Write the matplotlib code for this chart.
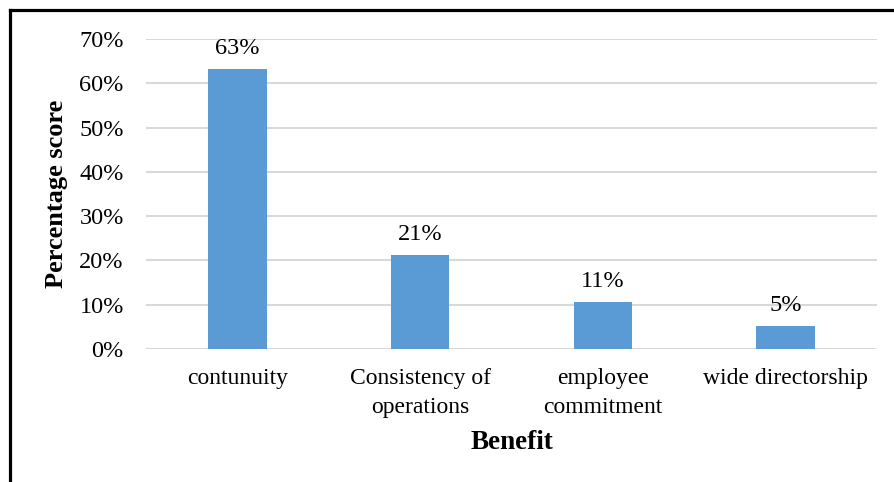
import matplotlib.pyplot as plt
from matplotlib.lines import Line2D
from matplotlib.ticker import PercentFormatter

# Datos
categories = ["contunuity", "Consistency of\noperations", "employee\ncommitment", "wide directorship"]
scores = [0.633, 0.212, 0.106, 0.053]
yticks = [0, 0.1, 0.2, 0.3, 0.4, 0.5, 0.6, 0.7]

plt.rcParams["font.family"] = ["Liberation Serif", "DejaVu Serif"]

fig = plt.figure(figsize=(8.94, 4.82), dpi=100)
ax = fig.add_axes([146 / 894, 1 - 349 / 482, 731 / 894, 310 / 482])

x = range(len(categories))
bars = ax.bar(x, scores, width=0.32, color="#5b9bd5", zorder=3)

for b, v in zip(bars, scores):
    ax.annotate(f"{v * 100:.0f}%", (b.get_x() + b.get_width() / 2, v),
                xytext=(0, 7), textcoords="offset points",
                ha="center", va="bottom", fontsize=17.5)

ax.set_xlim(-0.5, len(categories) - 0.5)
ax.set_ylim(0, 0.7)
ax.set_yticks(yticks)
ax.yaxis.set_major_formatter(PercentFormatter(1.0, decimals=0))
ax.set_xticks(list(x))
ax.set_xticklabels(categories, fontsize=17, linespacing=1.45)
ax.tick_params(axis="both", length=0, labelsize=17.5)
ax.tick_params(axis="x", pad=14, labelsize=17)
ax.tick_params(axis="y", pad=16)
ax.grid(axis="y", color="#d9d9d9", linewidth=1.5, zorder=0)
for s in ax.spines.values():
    s.set_visible(False)

ax.set_ylabel("Percentage score", fontsize=19, fontweight="bold", labelpad=8)
ax.set_xlabel("Benefit", fontsize=19.5, fontweight="bold", labelpad=9)

# Marco de la figura
fig.add_artist(Line2D([10 / 894, 1.0], [1 - 9.5 / 482, 1 - 9.5 / 482],
                      transform=fig.transFigure, color="black", linewidth=2.3))
fig.add_artist(Line2D([10 / 894, 10 / 894], [0, 1 - 9.5 / 482],
                      transform=fig.transFigure, color="black", linewidth=2.3))

fig.savefig("out.png", dpi=100)
